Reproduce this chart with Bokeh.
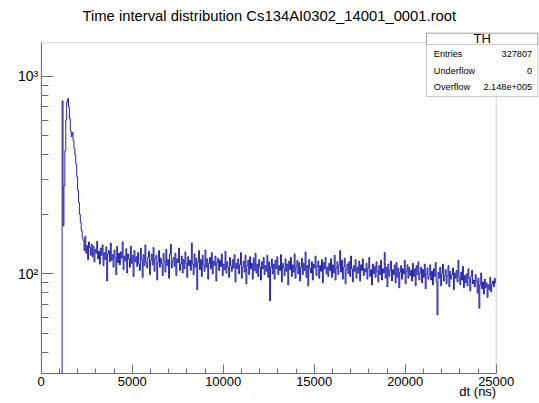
from bokeh.plotting import figure
from bokeh.models import Range1d, FixedTicker, Label, BoxAnnotation
from bokeh.embed import file_html
from bokeh.resources import INLINE
import math

# ---------------- data ----------------
title_text = "Time interval distribution Cs134AI0302_14001_0001.root"
x_label = "dt (ns)"
bin_width = 50          # ns per bin
x_start, x_end = 0, 25000
y_start, y_end = 31.3, 1476

# counts per 50 ns bin, 0 .. 25000 ns
counts_empty = [0, 0, 0, 0, 0, 0, 0, 0, 0, 0, 0, 0, 0, 0, 0, 0, 0, 0, 0, 0, 0, 0, 0]
counts_peak = [750, 175, 280, 420, 600, 740, 770, 700, 610, 530, 495, 520, 470, 430,
               400, 360, 310, 265, 230, 200, 182, 165, 152]
counts_tail = [
    148, 131, 155, 127, 139, 118, 145, 136, 124, 141,
    122, 138, 115, 133, 127, 146, 119, 130, 112, 135,
    124, 140, 110, 128, 118, 137, 92, 126, 131, 115,
    143, 117, 125, 108, 132, 121, 99, 138, 114, 127,
    111, 129, 120, 145, 105, 123, 116, 134, 101, 126,
    119, 108, 138, 113, 124, 97, 131, 115, 122, 109,
    128, 112, 104, 135, 118, 96, 125, 110, 140, 114,
    107, 121, 130, 99, 117, 126, 111, 136, 103, 119,
    124, 93, 115, 131, 108, 120, 113, 98, 127, 116,
    102, 133, 110, 118, 95, 125, 141, 107, 116, 121,
    109, 127, 98, 119, 114, 135, 104, 112, 123, 101,
    118, 106, 129, 113, 96, 122, 110, 117, 104, 143,
    112, 99, 126, 108, 120, 83, 115, 131, 105, 118,
    97, 124, 111, 103, 132, 108, 119, 94, 113, 121,
    106, 128, 100, 116, 110, 123, 92, 114, 120, 104,
    117, 109, 126, 98, 112, 105, 130, 101, 115, 108,
    96, 121, 110, 103, 118, 107, 125, 91, 113, 106,
    119, 100, 111, 128, 95, 108, 116, 102, 124, 89,
    110, 117, 99, 122, 106, 113, 94, 120, 104, 127,
    101, 112, 97, 118, 108, 93, 115, 106, 121, 99,
    110, 103, 124, 96, 115, 73, 108, 119, 100, 112,
    94, 117, 106, 122, 99, 110, 104, 125, 91, 113,
    107, 98, 119, 103, 112, 88, 116, 105, 121, 97,
    111, 102, 126, 95, 109, 117, 100, 114, 92, 108,
    120, 99, 113, 104, 129, 96, 110, 87, 118, 106,
    101, 115, 93, 112, 107, 123, 98, 109, 116, 95,
    110, 103, 118, 90, 114, 106, 121, 100, 108, 97,
    113, 104, 119, 96, 111, 101, 124, 93, 107, 115,
    99, 110, 131, 102, 117, 94, 108, 120, 89, 105,
    112, 100, 115, 97, 123, 106, 91, 110, 103, 118,
    95, 108, 101, 116, 92, 111, 104, 119, 98, 106,
    102, 113, 94, 107, 121, 97, 105, 88, 112, 100,
    109, 96, 115, 103, 91, 110, 99, 117, 93, 106,
    101, 128, 95, 108, 86, 112, 97, 104, 116, 92,
    105, 99, 111, 90, 114, 96, 107, 85, 102, 110,
    94, 106, 100, 117, 89, 103, 111, 95, 108, 98,
    104, 92, 113, 97, 106, 87, 110, 99, 115, 93,
    101, 108, 90, 105, 96, 112, 84, 100, 107, 94,
    99, 111, 93, 103, 88, 106, 97, 114, 91, 62,
    102, 95, 108, 87, 100, 112, 92, 98, 105, 89,
    97, 110, 86, 103, 94, 99, 107, 83, 101, 95,
    104, 91, 117, 96, 88, 102, 93, 109, 85, 98,
    90, 100, 87, 106, 95, 82, 97, 104, 89, 93,
    86, 99, 92, 80, 95, 67, 88, 101, 84, 91,
    79, 94, 85, 90, 76, 88, 83, 96, 81, 89,
    92, 86, 95, 90,
]
counts = counts_empty + counts_peak + counts_tail

x_major_ticks = [0, 5000, 10000, 15000, 20000, 25000]
x_minor_ticks = [1000, 2000, 3000, 4000, 6000, 7000, 8000, 9000, 11000, 12000, 13000,
                 14000, 16000, 17000, 18000, 19000, 21000, 22000, 23000, 24000]
y_major_ticks = [100, 1000]
y_major_labels = ["10²", "10³"]
y_minor_ticks = [40, 50, 60, 70, 80, 90, 200, 300, 400, 500, 600, 700, 800, 900]

stats_title = "TH"
stats_names = ["Entries", "Underflow", "Overflow"]
stats_values = ["327807", "0", "2.148e+005"]

# ---------------- layout (pixels) ----------------
W, H = 539, 403
FRAME_L, FRAME_R = 40.7, 495.7      # pixel columns of x_start / x_end
FRAME_T, FRAME_B = 42.3, 373.0      # pixel rows of y_end / y_start

px_per_x = (FRAME_R - FRAME_L) / (x_end - x_start)
vx0 = x_start - FRAME_L / px_per_x
vx1 = x_end + (W - FRAME_R) / px_per_x
px_per_dec = (FRAME_B - FRAME_T) / (math.log10(y_end) - math.log10(y_start))
vy0 = 10 ** (math.log10(y_start) - (H - FRAME_B) / px_per_dec)
vy1 = 10 ** (math.log10(y_end) + FRAME_T / px_per_dec)

FONT = "Liberation Sans"
AXIS_COL = "#707078"
LINE_COL = "#000099"
BOX_COL = "#505050"

p = figure(width=W, height=H, output_backend="svg", toolbar_location=None,
           title=None, y_axis_type="log",
           x_range=Range1d(vx0, vx1), y_range=Range1d(vy0, vy1),
           min_border=0, min_border_left=0, min_border_right=0,
           min_border_top=0, min_border_bottom=0)
p.background_fill_color = "white"
p.border_fill_color = "white"
p.outline_line_color = None
p.xgrid.visible = False
p.ygrid.visible = False

# ROOT-style frame
p.add_layout(BoxAnnotation(left=x_start, right=x_end, bottom=y_start, top=y_end,
                           fill_alpha=0.0, line_color=AXIS_COL, line_width=1))

# histogram drawn as steps
edges = [x_start + i * bin_width for i in range(len(counts) + 1)]
k = next(i for i, c in enumerate(counts) if c > 0)
xs = [edges[k]] + edges[k:]
ys = [y_start] + counts[k:] + [counts[-1]]
p.step(xs, ys, mode="after", line_color=LINE_COL, line_width=0.85)

xa = p.xaxis[0]
xa.fixed_location = y_start
xa.bounds = (x_start, x_end)
xa.ticker = FixedTicker(ticks=x_major_ticks, minor_ticks=x_minor_ticks)
xa.axis_line_color = AXIS_COL
xa.major_tick_line_color = AXIS_COL
xa.minor_tick_line_color = AXIS_COL
xa.major_tick_in = 9
xa.major_tick_out = 0
xa.minor_tick_in = 5
xa.minor_tick_out = 0
xa.major_label_standoff = 3
xa.major_label_text_font = FONT
xa.major_label_text_font_size = "13px"
xa.major_label_text_color = "black"
xa.major_label_overrides = {t: str(t) for t in x_major_ticks}

ya = p.yaxis[0]
ya.fixed_location = x_start
ya.bounds = (y_start, y_end)
ya.ticker = FixedTicker(ticks=y_major_ticks, minor_ticks=y_minor_ticks)
ya.axis_line_color = AXIS_COL
ya.major_tick_line_color = AXIS_COL
ya.minor_tick_line_color = AXIS_COL
ya.major_tick_in = 12
ya.major_tick_out = 0
ya.minor_tick_in = 7
ya.minor_tick_out = 0
ya.major_label_standoff = 3
ya.major_label_text_font = FONT
ya.major_label_text_font_size = "14px"
ya.major_label_text_color = "black"
ya.major_label_overrides = {t: lab for t, lab in zip(y_major_ticks, y_major_labels)}

# canvas positions (screen units measured from the bottom-left)
def sy(img_y):
    return H - img_y

p.add_layout(Label(x=268.8, y=sy(15.0), x_units="screen", y_units="screen", text=title_text,
                   text_align="center", text_baseline="middle",
                   text_font=FONT, text_font_size="14.8px", text_color="black"))
p.add_layout(Label(x=FRAME_R, y=sy(390.5), x_units="screen", y_units="screen", text=x_label,
                   text_align="right", text_baseline="alphabetic",
                   text_font=FONT, text_font_size="13px", text_color="black"))

# stats box
BOX_L, BOX_R, BOX_T, BOX_B, BOX_DIV = 426.0, 537.3, 32.7, 96.0, 44.0
p.add_layout(BoxAnnotation(left=BOX_L, right=BOX_R, top=sy(BOX_T), bottom=sy(BOX_B),
                           left_units="screen", right_units="screen",
                           top_units="screen", bottom_units="screen",
                           fill_color="white", fill_alpha=1.0,
                           line_color=BOX_COL, line_width=1, level="overlay"))
p.add_layout(BoxAnnotation(left=BOX_L, right=BOX_R, top=sy(BOX_T), bottom=sy(BOX_DIV),
                           left_units="screen", right_units="screen",
                           top_units="screen", bottom_units="screen",
                           fill_alpha=0.0,
                           line_color=BOX_COL, line_width=1, level="overlay"))
p.add_layout(Label(x=(BOX_L + BOX_R) / 2, y=sy(38.0), x_units="screen", y_units="screen",
                   text=stats_title, text_align="center", text_baseline="middle",
                   level="overlay", text_font=FONT, text_font_size="13px",
                   text_color="black"))
row_img_y = [53.3, 70.0, 86.0]
for name, val, ry in zip(stats_names, stats_values, row_img_y):
    p.add_layout(Label(x=BOX_L + 7.3, y=sy(ry), x_units="screen", y_units="screen", text=name,
                       text_align="left", text_baseline="middle", level="overlay",
                       text_font=FONT, text_font_size="9.2px", text_color="black"))
    p.add_layout(Label(x=BOX_R - 5.6, y=sy(ry), x_units="screen", y_units="screen", text=val,
                       text_align="right", text_baseline="middle", level="overlay",
                       text_font=FONT, text_font_size="9.2px", text_color="black"))

open("out.html", "w").write(file_html(p, INLINE))
